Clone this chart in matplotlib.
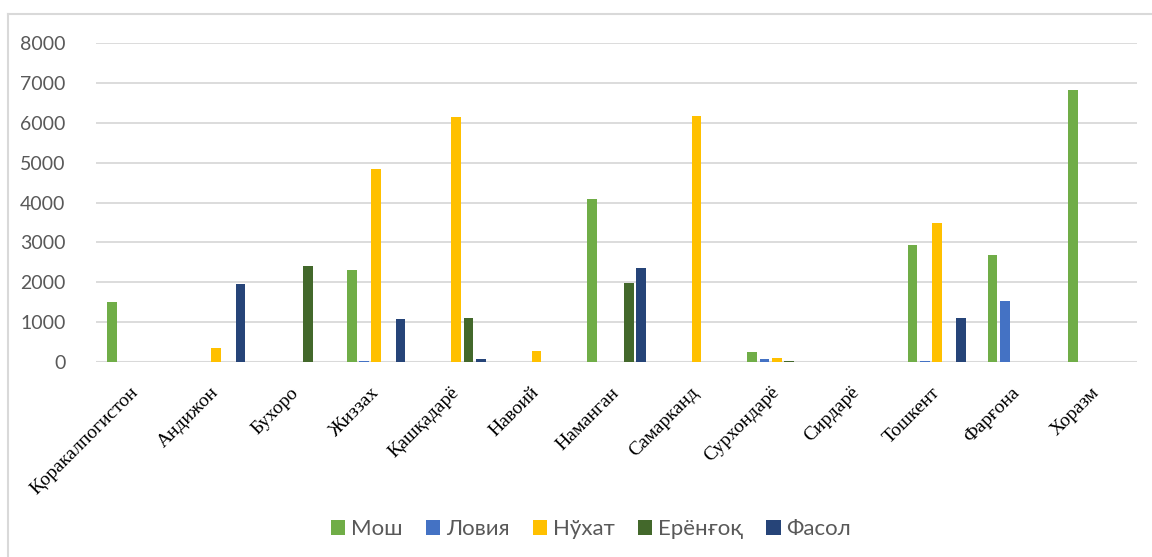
import matplotlib
matplotlib.use("Agg")
import matplotlib.pyplot as plt
from matplotlib.lines import Line2D
from matplotlib.patches import Patch
import numpy as np

# regions (x axis)
regions = ["Қоракалпогистон", "Андижон", "Бухоро", "Жиззах", "Қашқадарё", "Навоий",
           "Наманган", "Самарканд", "Сурхондарё", "Сирдарё", "Тошкент", "Фарғона", "Хоразм"]

# series values, one per region
mosh = [1500, 0, 0, 2320, 0, 0, 4100, 0, 260, 0, 2945, 2690, 6825]
loviya = [0, 0, 0, 35, 0, 0, 0, 0, 90, 0, 30, 1540, 0]
nukhat = [0, 350, 0, 4840, 6140, 280, 0, 6155, 115, 0, 3485, 0, 0]
yeryongok = [0, 0, 2415, 0, 1100, 0, 1990, 0, 30, 0, 0, 0, 0]
fasol = [0, 1970, 0, 1080, 85, 0, 2360, 0, 0, 0, 1118, 0, 0]

series_names = ["Мош", "Ловия", "Нўхат", "Ерёнғоқ", "Фасол"]
series_vals = [mosh, loviya, nukhat, yeryongok, fasol]
colors = ["#70AD47", "#4472C4", "#FFC000", "#43682B", "#264478"]

W, H = 1152, 557
fig = plt.figure(figsize=(W / 100, H / 100), dpi=100)
ax = fig.add_axes([96 / W, (H - 362.3) / H, (1137 - 96) / W, (362.3 - 42.8) / H])

x = np.arange(len(regions))
pitch = 0.152
width = 0.122
for i, (vals, col) in enumerate(zip(series_vals, colors)):
    offs = (i - 2) * pitch
    ax.bar(x + offs, vals, width=width, color=col, linewidth=0, zorder=3)

ax.set_xlim(-0.5, len(regions) - 0.5)
ax.set_ylim(0, 8000)
ax.set_yticks(np.arange(0, 8001, 1000))
ax.yaxis.grid(True, color="#d9d9d9", linewidth=1.3, zorder=0)
ax.set_axisbelow(True)
for s in ["top", "right", "left", "bottom"]:
    ax.spines[s].set_visible(False)
ax.axhline(0, color="#d9d9d9", linewidth=1.5, zorder=2)

ax.tick_params(axis="y", length=0, pad=22, labelsize=14, labelcolor="#595959")
for lab in ax.get_yticklabels():
    lab.set_fontfamily("Lato")

ax.set_xticks(x)
ax.set_xticklabels(regions, rotation=45, ha="right", va="center",
                   rotation_mode="anchor", fontsize=14,
                   fontfamily="Liberation Serif", color="black")
ax.tick_params(axis="x", length=0, pad=20)

# legend
handles = [Patch(facecolor=c, edgecolor="none") for c in colors]
fig.legend(handles, series_names, loc="center", bbox_to_anchor=(591 / W, (H - 529) / H),
           ncol=5, frameon=False, handlelength=0.65, handleheight=0.65,
           handletextpad=0.25, columnspacing=1.05,
           prop={"family": "Lato", "size": 16}, labelcolor="#595959")

# chart frame (left and top edges visible)
fig.add_artist(Line2D([7.5 / W, 7.5 / W], [0, (H - 14) / H], color="#d9d9d9", linewidth=1.5))
fig.add_artist(Line2D([7.5 / W, 1], [(H - 14) / H, (H - 14) / H], color="#d9d9d9", linewidth=1.5))

fig.savefig("out.png", dpi=100, facecolor="white")
